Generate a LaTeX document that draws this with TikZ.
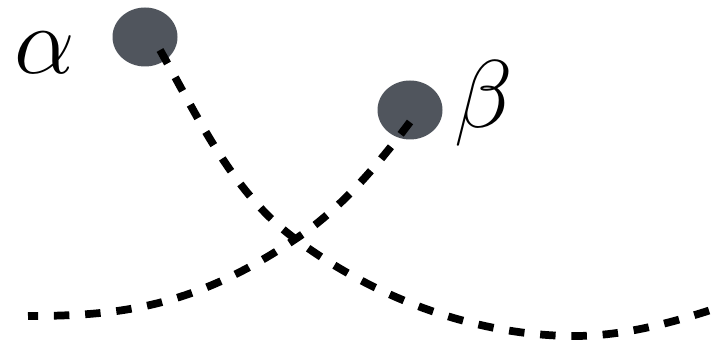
\documentclass[tikz,border=0pt]{standalone}
\usepackage{tikz}
\usetikzlibrary{shapes.geometric}
\definecolor{dotGray}{HTML}{50555D}

\begin{document}
\begin{tikzpicture}[
  blob/.style={ellipse, fill=dotGray, minimum width=1.3cm, minimum height=1.18cm, inner sep=0pt},
  lbl/.style={inner sep=0pt, font=\Huge, scale=2.2},
  trail/.style={line width=4.4pt, dash pattern=on 8.8pt off 9pt}
]
  \useasboundingbox (0,0) rectangle (14.56,6.88);
  % kropki i etykiety
  \node[blob] (dA) at (2.90,6.14) {};
  \node[blob] (dB) at (8.20,4.68) {};
  \node[lbl] (lA) at (0.90,5.82) {$\alpha$};
  \node[lbl] (lB) at (9.68,4.82) {$\beta$};
  % punkty krzywych
  \coordinate (sA) at (3.20,5.88);
  \coordinate (sB) at (8.20,4.44);
  \coordinate (xA) at (5.88,2.12);
  \coordinate (xB) at (5.88,2.08);
  \coordinate (low) at (11.50,0.16);
  \coordinate (eA) at (14.46,0.76);
  \coordinate (eB) at (0.56,0.56);
  % krzywe
  \draw[trail] (sA) .. controls (3.96,4.54) and (4.64,3.04) .. (xA)
    .. controls (7.48,0.92) and (9.52,0.16) .. (low)
    .. controls (12.50,0.16) and (13.50,0.44) .. (eA);
  \draw[trail] (sB) .. controls (7.54,3.56) and (6.80,2.68) .. (xB)
    .. controls (3.88,0.74) and (2.40,0.56) .. (eB);
\end{tikzpicture}
\end{document}
